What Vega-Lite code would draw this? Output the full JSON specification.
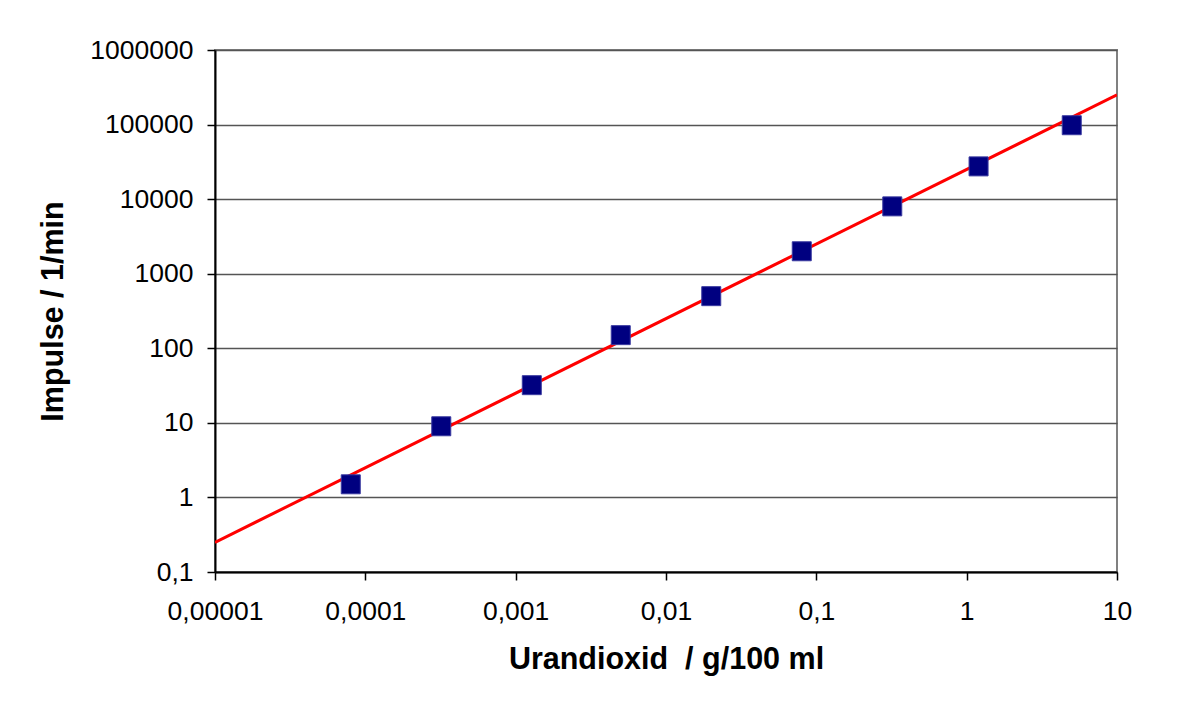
{
  "$schema": "https://vega.github.io/schema/vega-lite/v6.json",
  "width": 902,
  "height": 522,
  "autosize": {"type": "none"},
  "padding": {"left": 215, "top": 50, "right": 74, "bottom": 137},
  "background": "white",
  "config": {
    "view": {"stroke": "#808080", "strokeWidth": 2},
    "font": "Liberation Sans",
    "axis": {
      "labelFont": "Liberation Sans",
      "labelFontSize": 26.5,
      "labelColor": "#000000",
      "titleFont": "Liberation Sans",
      "titleFontSize": 30.5,
      "titleFontWeight": "bold",
      "titleColor": "#000000",
      "domainColor": "#000000",
      "domainWidth": 2,
      "tickColor": "#000000",
      "tickWidth": 1.5,
      "tickSize": 8,
      "gridColor": "#555555",
      "gridWidth": 1.5,
      "gridOpacity": 1
    }
  },
  "datasets": {
    "points": [
      {"x": 0.00008, "y": 1.5},
      {"x": 0.00032, "y": 9},
      {"x": 0.00128, "y": 32},
      {"x": 0.005, "y": 150},
      {"x": 0.02, "y": 500},
      {"x": 0.08, "y": 2000},
      {"x": 0.32, "y": 8000},
      {"x": 1.2, "y": 27500},
      {"x": 5, "y": 98000}
    ],
    "fit": [
      {"x": 0.00001, "y": 0.25},
      {"x": 10, "y": 250000}
    ]
  },
  "layer": [
    {
      "data": {"name": "fit"},
      "mark": {"type": "line", "color": "#ff0000", "strokeWidth": 3, "clip": true},
      "encoding": {
        "x": {
          "field": "x", "type": "quantitative",
          "scale": {"type": "log", "domain": [0.00001, 10]},
          "axis": {
            "title": "Urandioxid \u00a0/ g/100 ml",
            "values": [0.00001, 0.0001, 0.001, 0.01, 0.1, 1, 10],
            "labelExpr": "replace(format(datum.value, '~f'), '.', ',')",
            "grid": false,
            "labelPadding": 18,
            "titlePadding": 20,
            "labelFlush": false,
            "labelOverlap": false
          }
        },
        "y": {
          "field": "y", "type": "quantitative",
          "scale": {"type": "log", "domain": [0.1, 1000000]},
          "axis": {
            "title": "Impulse / 1/min",
            "values": [0.1, 1, 10, 100, 1000, 10000, 100000, 1000000],
            "labelExpr": "replace(format(datum.value, '~f'), '.', ',')",
            "grid": true,
            "labelPadding": 14,
            "titlePadding": 21,
            "labelFlush": false,
            "labelOverlap": false
          }
        }
      }
    },
    {
      "data": {"name": "points"},
      "mark": {"type": "point", "shape": "square", "filled": true, "size": 361, "color": "#000080", "stroke": "#3a3aa0", "strokeWidth": 1, "opacity": 1},
      "encoding": {
        "x": {"field": "x", "type": "quantitative"},
        "y": {"field": "y", "type": "quantitative"}
      }
    }
  ]
}
